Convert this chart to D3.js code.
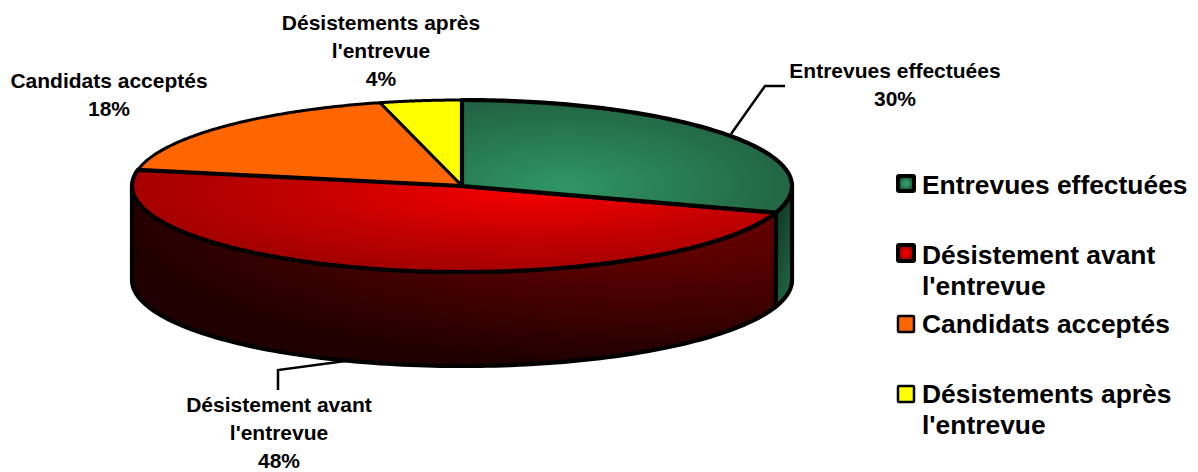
<!DOCTYPE html>
<html>
<head>
<meta charset="utf-8">
<script src="https://cdn.jsdelivr.net/npm/d3@7"></script>
<style>
  html, body { margin: 0; padding: 0; background: #fff; }
  svg { display: block; }
  text { font-family: "Liberation Sans", Arial, sans-serif; font-weight: bold; fill: #000; }
</style>
</head>
<body>
<svg id="chart" width="1198" height="472"></svg>
<script>
const categoryLines = [
  ["Entrevues effectuées"],
  ["Désistement avant", "l'entrevue"],
  ["Candidats acceptés"],
  ["Désistements après", "l'entrevue"]
];
const percents = [30, 48, 18, 4];

const cx = 462, cy = 186, rx = 330, ry = 86, depth = 94;

const svg = d3.select("#chart");
const defs = svg.append("defs");

// elliptical gradients in page units
function ellipseGradient(id, x, y, grx, gry, stops) {
  const g = defs.append("radialGradient")
    .attr("id", id)
    .attr("gradientUnits", "userSpaceOnUse")
    .attr("cx", 0).attr("cy", 0).attr("r", 1)
    .attr("gradientTransform", `translate(${x},${y}) scale(${grx},${gry})`);
  stops.forEach(s => g.append("stop").attr("offset", s[0]).attr("stop-color", s[1]));
}

ellipseGradient("topGreen", 565, 185, 235, 85, [[0, "#2f9664"], [1, "#226443"]]);
ellipseGradient("topRed", 530, 192, 400, 80, [[0, "#f60000"], [0.55, "#c40000"], [1, "#a40000"]]);
ellipseGradient("sideRed", 640, 215, 530, 150, [[0, "#750000"], [1, "#200000"]]);

const sideGreen = defs.append("linearGradient").attr("id", "sideGreen").attr("x1", 0).attr("y1", 0).attr("x2", 0.5).attr("y2", 1);
sideGreen.append("stop").attr("offset", 0).attr("stop-color", "#0e2c1c");
sideGreen.append("stop").attr("offset", 1).attr("stop-color", "#1f6443");

const swatchGreen = defs.append("radialGradient").attr("id", "swatchGreen");
swatchGreen.append("stop").attr("offset", 0.3).attr("stop-color", "#2f9664");
swatchGreen.append("stop").attr("offset", 1).attr("stop-color", "#174a30");
const swatchRed = defs.append("radialGradient").attr("id", "swatchRed");
swatchRed.append("stop").attr("offset", 0.3).attr("stop-color", "#e80000");
swatchRed.append("stop").attr("offset", 1).attr("stop-color", "#8a0000");

const sliceStyle = [
  { top: "url(#topGreen)", side: "url(#sideGreen)", swatch: "url(#swatchGreen)", stroke: 4.2, swatchStroke: 4 },
  { top: "url(#topRed)", side: "url(#sideRed)", swatch: "url(#swatchRed)", stroke: 4.2, swatchStroke: 4 },
  { top: "#ff6600", side: "#7f3300", swatch: "#ff6600", stroke: 3, swatchStroke: 2.5 },
  { top: "#ffff00", side: "#7f7f00", swatch: "#ffff00", stroke: 3, swatchStroke: 2.5 }
];

const pie = d3.pie().sort(null).value(d => d);
const slices = pie(percents).map((d, i) => ({ ...d, i }));

// angle 0 is at the top, clockwise, same as d3.pie
const ex = a => cx + rx * Math.sin(a);
const ey = a => cy - ry * Math.cos(a);
const line = d3.line();

function sweep(a0, a1) {
  return d3.range(0, 121).map(k => a0 + (a1 - a0) * k / 120);
}

function sidePath(d) {
  const a0 = Math.max(d.startAngle, Math.PI / 2);
  const a1 = Math.min(d.endAngle, Math.PI * 1.5);
  if (a1 <= a0) return null;
  const angles = sweep(a0, a1);
  const upper = angles.map(a => [ex(a), ey(a)]);
  const lower = angles.slice().reverse().map(a => [ex(a), ey(a) + depth]);
  return line(upper.concat(lower)) + "Z";
}

function topPath(d) {
  const rim = sweep(d.startAngle, d.endAngle).map(a => [ex(a), ey(a)]);
  return line([[cx, cy]].concat(rim)) + "Z";
}

svg.append("g").selectAll("path")
  .data(slices.filter(d => sidePath(d)))
  .join("path")
  .attr("d", sidePath)
  .attr("fill", d => sliceStyle[d.i].side)
  .attr("stroke", "#000")
  .attr("stroke-width", 4.2)
  .attr("stroke-linejoin", "round");

// thin slices first so the thick outlines stay on top
svg.append("g").selectAll("path")
  .data(slices.slice().reverse())
  .join("path")
  .attr("d", topPath)
  .attr("fill", d => sliceStyle[d.i].top)
  .attr("stroke", "#000")
  .attr("stroke-width", d => sliceStyle[d.i].stroke)
  .attr("stroke-linejoin", "round");

// leader lines
const leaders = [
  [[731, 134], [765, 86], [785, 86]],
  [[353, 360], [278, 370], [278, 390]]
];
svg.append("g").selectAll("path")
  .data(leaders)
  .join("path")
  .attr("d", line)
  .attr("fill", "none")
  .attr("stroke", "#000")
  .attr("stroke-width", 2.5);

// data labels
const labelPos = [
  { x: 895, y: 78 },
  { x: 279, y: 411.5 },
  { x: 109, y: 88 },
  { x: 381, y: 30 }
];
const labels = svg.append("g").attr("text-anchor", "middle").attr("font-size", 21);
categoryLines.forEach((lines, i) => {
  const t = labels.append("text").attr("x", labelPos[i].x).attr("y", labelPos[i].y);
  lines.concat(percents[i] + "%").forEach((txt, k) => {
    t.append("tspan").attr("x", labelPos[i].x).attr("dy", k ? 28 : 0).text(txt);
  });
});

// legend
const legendPos = [
  { box: [898, 176, 16, 15], y: 194 },
  { box: [898, 245, 16, 16], y: 264 },
  { box: [898, 316, 16, 16], y: 333 },
  { box: [898, 386, 16, 16], y: 403 }
];
const legend = svg.append("g");
categoryLines.forEach((lines, i) => {
  const p = legendPos[i];
  legend.append("rect")
    .attr("x", p.box[0]).attr("y", p.box[1]).attr("width", p.box[2]).attr("height", p.box[3])
    .attr("rx", 1)
    .attr("fill", sliceStyle[i].swatch)
    .attr("stroke", "#000")
    .attr("stroke-width", sliceStyle[i].swatchStroke);
  const t = legend.append("text").attr("y", p.y).attr("font-size", 26.4);
  lines.forEach((txt, k) => {
    t.append("tspan").attr("x", 922).attr("dy", k ? 31 : 0).text(txt);
  });
});
</script>
</body>
</html>
